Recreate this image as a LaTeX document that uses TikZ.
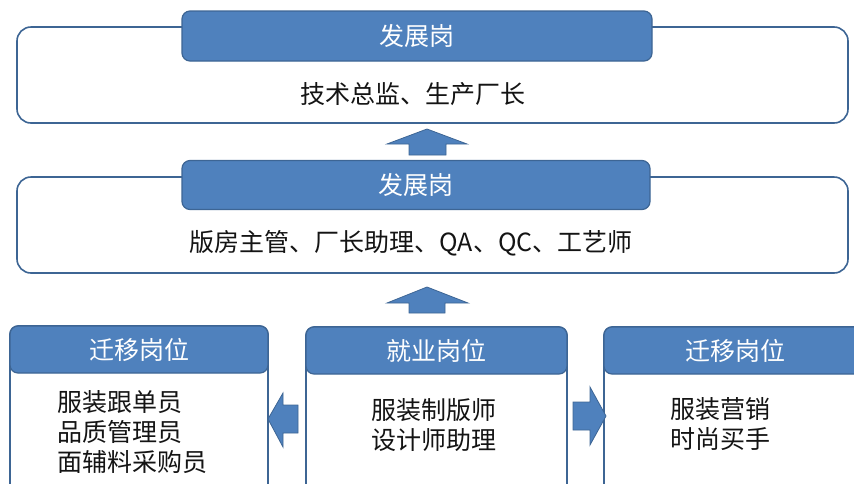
\documentclass[tikz,border=0pt]{standalone}
\usepackage{fontspec}
\setmainfont{Noto Sans CJK SC}
\usetikzlibrary{positioning}
\definecolor{azul}{HTML}{4F81BD}
\definecolor{azulborda}{HTML}{3D6594}
\definecolor{texto}{HTML}{141414}
\tikzset{
  caixa/.style={draw=azulborda, line width=1.6pt, rounded corners=14pt, fill=white, inner sep=0pt},
  caixabaixo/.style={caixa, rounded corners=8pt},
  cabecalho/.style={draw=azulborda, line width=1.2pt, fill=azul, rounded corners=8pt, text=white, inner sep=0pt, font=\fontsize{25}{30}\selectfont},
  corpo/.style={text=texto, inner sep=0pt, align=left, font=\fontsize{25}{30}\selectfont},
  seta/.style={draw=azulborda, line width=0.8pt, fill=azul, line join=miter},
}
\begin{document}
\begin{tikzpicture}[x=1pt,y=-1pt]  %Escala em pixels
  \useasboundingbox (0,0) rectangle (854,483);
  \clip (0,0) rectangle (854,483);
      %Caixa superior
  \node[caixa, minimum width=831pt, minimum height=96pt] (topo) at (432.5,75) {};
  \node[cabecalho, minimum width=470pt, minimum height=50pt] (topocab) at (417,36) {发展岗};
  \node[corpo] (topotxt) at (413,94) {技术总监、生产厂长};
      %Caixa do meio
  \node[caixa, minimum width=831pt, minimum height=96pt] (meio) at (432.5,225) {};
  \node[cabecalho, minimum width=468pt, minimum height=49pt] (meiocab) at (416,185) {发展岗};
  \node[corpo] (meiotxt) at (411,243) {版房主管、厂长助理、QA、QC、工艺师};
      %Caixas inferiores
  \node[caixabaixo, minimum width=258pt, minimum height=220pt] (esq) at (139,436) {};
  \node[cabecalho, minimum width=258pt, minimum height=47pt] (esqcab) at (139,349.5) {迁移岗位};
  \node[corpo, anchor=west] (esqtxt) at (57,432) {服装跟单员\\品质管理员\\面辅料采购员};
  \node[caixabaixo, minimum width=261pt, minimum height=220pt] (centro) at (436.5,437) {};
  \node[cabecalho, minimum width=261pt, minimum height=47pt] (centrocab) at (436.5,350.5) {就业岗位};
  \node[corpo, anchor=west] (centrotxt) at (371,425) {服装制版师\\设计师助理};
  \node[caixabaixo, minimum width=262pt, minimum height=220pt] (dir) at (735,437) {};
  \node[cabecalho, minimum width=262pt, minimum height=47pt] (dircab) at (735,350.5) {迁移岗位};
  \node[corpo, anchor=west] (dirtxt) at (670,424) {服装营销\\时尚买手};
      %Setas
  \draw[seta] (427,129) -- (467,144) -- (446,144) -- (446,155) -- (409,155) -- (409,144) -- (387,144) -- cycle; %Seta topo
  \draw[seta] (427,287) -- (468,303) -- (445,303) -- (445,313) -- (409,313) -- (409,303) -- (387,303) -- cycle; %Seta meio
  \draw[seta] (268,419) -- (283,393) -- (283,405) -- (298,405) -- (298,433) -- (283,433) -- (283,447) -- cycle; %Seta esquerda
  \draw[seta] (606,416) -- (590,387) -- (590,402) -- (573,402) -- (573,430) -- (590,430) -- (590,445) -- cycle; %Seta direita
\end{tikzpicture}
\end{document}
